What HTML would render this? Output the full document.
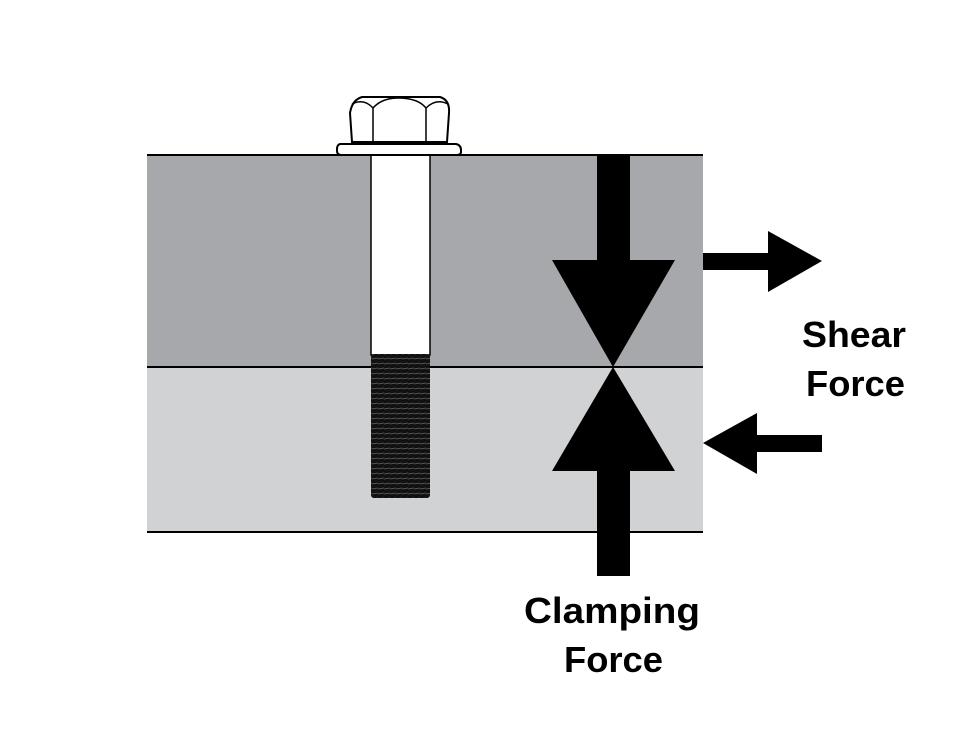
<!DOCTYPE html>
<html><head><style>
body{margin:0;background:#fff;width:980px;height:729px;overflow:hidden}
text{font-family:"Liberation Sans",sans-serif;font-weight:bold;font-size:36px;fill:#000}
</style></head><body>
<svg width="980" height="729" viewBox="0 0 980 729" xmlns="http://www.w3.org/2000/svg">
<defs>
<pattern id="th" x="0" y="355" width="6" height="5" patternUnits="userSpaceOnUse">
<rect width="6" height="5" fill="#111"/><line x1="0" y1="4" x2="6" y2="3" stroke="#666" stroke-width="0.8"/>
</pattern>
</defs>
<rect x="147" y="155" width="556" height="212" fill="#a7a8ab"/>
<rect x="147" y="367" width="556" height="165" fill="#d1d2d4"/>
<line x1="147" y1="155" x2="703" y2="155" stroke="#000" stroke-width="2"/>
<line x1="147" y1="367" x2="703" y2="367" stroke="#000" stroke-width="2"/>
<line x1="147" y1="532" x2="703" y2="532" stroke="#000" stroke-width="2"/>
<rect x="371" y="155" width="59" height="200" fill="#fff" stroke="#000" stroke-width="1.5"/>
<rect x="371" y="354" width="59" height="144" fill="url(#th)" rx="3"/>
<path d="M340 144 L456 144 Q461 145 461 150 L461 152 Q461 155 456 155 L342 155 Q337 155 337 151 L337 149 Q337 145 340 144 Z" fill="#fff" stroke="#000" stroke-width="2"/>
<path d="M352 142 L350 113 Q352 100 362 97 L440 97 Q450 100 449 113 L447 142 Z" fill="#fff" stroke="#000" stroke-width="2"/>
<path d="M373 141 L373 108 Q382 98 398 98 Q418 98 426 108 L426 141" fill="none" stroke="#000" stroke-width="1.5"/>
<path d="M352 104 Q364 98 373 108 M426 108 Q436 98 448 104" fill="none" stroke="#000" stroke-width="1.5"/>
<rect x="597" y="155" width="33" height="110" fill="#000"/>
<polygon points="552,260 675,260 613,367" fill="#000"/>
<polygon points="552,471 675,471 613,367" fill="#000"/>
<rect x="597" y="466" width="33" height="110" fill="#000"/>
<rect x="703" y="253" width="70" height="17" fill="#000"/>
<polygon points="768,231 822,261 768,292" fill="#000"/>
<rect x="752" y="435" width="70" height="17" fill="#000"/>
<polygon points="703,443 757,413 757,474" fill="#000"/>
<text x="802" y="347" textLength="104" lengthAdjust="spacingAndGlyphs">Shear</text>
<text x="806" y="396" textLength="99" lengthAdjust="spacingAndGlyphs">Force</text>
<text x="524" y="623" textLength="176" lengthAdjust="spacingAndGlyphs">Clamping</text>
<text x="564" y="672" textLength="99" lengthAdjust="spacingAndGlyphs">Force</text>
</svg>
</body></html>
